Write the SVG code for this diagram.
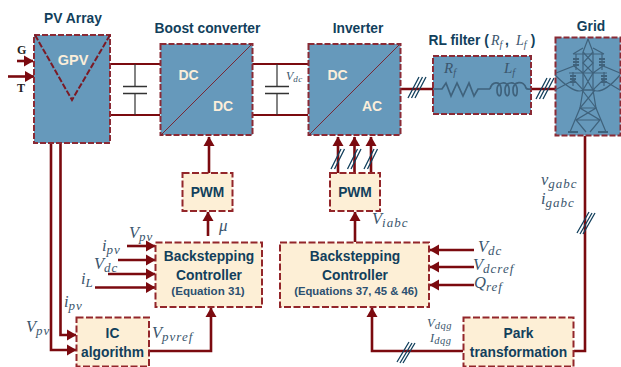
<svg xmlns="http://www.w3.org/2000/svg" width="621" height="367" viewBox="0 0 621 367">
<defs>
<marker id="ah" markerUnits="userSpaceOnUse" markerWidth="11" markerHeight="12" refX="9" refY="6" orient="auto"><path d="M0,0.5 L9.500,6 L0,11.500 Z" fill="#7b0a0f"/></marker>
</defs>
<style>
.blue{fill:#6699bb;stroke:#8a2a35;stroke-width:2;stroke-dasharray:6 2}
.cream{fill:#fdefd6;stroke:#93262a;stroke-width:2;stroke-dasharray:7 2.5}
.w{fill:none;stroke:#7b0a0f;stroke-width:2.6}
.a{fill:none;stroke:#7b0a0f;stroke-width:2.6;marker-end:url(#ah)}
.p{fill:none;stroke:#7b1a25;stroke-width:0.9}
.c{fill:none;stroke:#333;stroke-width:1.2}
.cp{fill:none;stroke:#333;stroke-width:1.6}
.sl{fill:none;stroke:#123f5c;stroke-width:1.3}
.t{font:bold 13.8px "Liberation Sans",Arial,sans-serif;fill:#123f5c;text-anchor:middle}
.s{font:bold 11.6px "Liberation Sans",Arial,sans-serif;fill:#2c5070;text-anchor:middle}
.d{font:bold 14px "Liberation Sans",Arial,sans-serif;fill:#fbeeda;text-anchor:middle}
.m{font:italic 16.5px "Liberation Serif","Times New Roman",serif;fill:#3b566d}
.m tspan{font-size:13px;letter-spacing:1px}
.g{font:bold 12px "Liberation Serif","Times New Roman",serif;fill:#222}
.i{fill:none;stroke:#3f627c;stroke-width:1.7}
.tw{fill:none;stroke:#3f627c;stroke-width:1.2}
</style>

<g id="connectors">
<path class="w" d="M110,64H160M110,115H160M252,64H308M252,115H308" style="stroke-width:1.8"/>
<path class="c" d="M135,64V86M135,94V115M277,64V86M277,94V115"/>
<path class="cp" d="M123,86.500H147M123,93.500H147M265,86.500H289M265,93.500H289"/>
<path class="a" d="M17,61H33"/><path class="a" d="M8,76.500H34"/>
<path class="a" d="M209,173V137"/>
<path class="a" d="M208,236V212"/>
<path class="a" d="M338,173V137"/><path class="a" d="M354.500,173V137"/><path class="a" d="M371,173V137"/>
<path class="sl" d="M331,169L341,149M334.500,169L344.500,149M347.500,169L357.500,149M351,169L361,149M364,169L374,149M367.500,169L377.500,149"/>
<path class="a" d="M355,242V212"/>
<path class="w" d="M400,89H433M531,89H555"/>
<path class="sl" d="M408,98L419,77M411.500,98L422.500,77M415,98L426,77M536,99L547,78M539.500,99L550.500,78M543,99L554,78"/>
<path class="a" d="M127,246H155"/><path class="a" d="M118,260H155"/><path class="a" d="M108,274H155"/><path class="a" d="M95,287.500H155"/>
<path class="a" d="M51,143V350H76"/>
<path class="a" d="M60.500,143V335H76"/>
<path class="a" d="M149,351H211V308"/>
<path class="a" d="M474,250H430"/><path class="a" d="M474,267H430"/><path class="a" d="M474,285H430"/>
<path class="a" d="M463,351H372V308"/>
<path class="w" d="M585,136V351H574"/>
<path class="sl" d="M577,233L589,212M580,234L592,213M583,234L595,213"/>
<path class="sl" d="M397,362L409,342M400,363L412,343M403,363L415,343"/>
</g>

<g id="pv-array">
<rect class="blue" x="34" y="35" width="76" height="108"/>
<path d="M35,35L72,100L110,35" style="fill:none;stroke-dasharray:6 2;stroke:#7b1a25;stroke-width:2"/>
<text class="d" x="73" y="65" style="font-size:14.500px">GPV</text>
<text class="t" x="73" y="23">PV Array</text>
<text class="g" x="17" y="54">G</text>
<text class="g" x="17" y="92">T</text>
</g>

<g id="boost-converter">
<rect class="blue" x="160.500" y="44" width="92" height="91"/>
<path class="p" d="M161,135L251,45"/>
<text class="d" x="188.500" y="80">DC</text>
<text class="d" x="223" y="111">DC</text>
<text class="t" x="207.500" y="33">Boost converter</text>
<text class="m" x="286" y="80" style="font-size:12px">V<tspan dy="2" style="font-size:9px;letter-spacing:0.500px">dc</tspan></text>
</g>

<g id="inverter">
<rect class="blue" x="308.500" y="44" width="92" height="91"/>
<path class="p" d="M309,135L399,45"/>
<text class="d" x="337.500" y="80">DC</text>
<text class="d" x="372" y="111">AC</text>
<text class="t" x="358" y="33">Inverter</text>
</g>

<g id="rl-filter">
<rect class="blue" x="433" y="56" width="98" height="58"/>
<path class="i" d="M433,89H442L446,83L451,96L457,83L463,96L469,83L474,96L478,89H490"/>
<path class="i" d="M490,89C492,81 500,81 501,88C502,98 497,98 497,90C497,81 508,81 509,88C510,98 505,98 505,90C505,81 516,81 517,88C518,98 513,98 513,90C513,81 524,80 526,88C527,90 529,89 531,89"/>
<text class="m" x="444" y="73" style="font-size:15px">R<tspan dy="3" style="font-size:10px">f</tspan></text>
<text class="m" x="504" y="73" style="font-size:15px">L<tspan dy="3" style="font-size:10px">f</tspan></text>
<text class="t" x="428.500" y="45" style="text-anchor:start">RL filter (</text>
<text class="m" x="491" y="45" style="font-size:14px">R<tspan dy="3" style="font-size:10px">f</tspan></text>
<text class="t" x="507" y="45">,</text>
<text class="m" x="516" y="45" style="font-size:14px">L<tspan dy="3" style="font-size:10px">f</tspan></text>
<text class="t" x="533" y="45">)</text>
</g>

<g id="grid">
<rect class="blue" x="555.500" y="37.500" width="65" height="98"/>
<path class="tw" d="M588,39L583,52V90L580,108L570,132M588,39L593,52V90L596,108L606,132M568,132H578M598,132H608"/>
<path class="tw" d="M573,54H604M573,54L583,48M604,54L593,48M556,73L574,66L583,73H593L603,66L620,73M569,73H607"/>
<path class="tw" d="M583,52L593,63L583,73L593,90M593,52L583,63L593,73L583,90M582,90H595M580,108H596M576,120H600M582,90L596,108L576,120L586,132M595,90L580,108L600,120L590,132"/>
<path class="tw" d="M555,90L574,80L583,90H593L603,80L620,90M555,75Q575,95 583,90M620,75Q603,95 593,90"/>
<path class="tw" d="M576,54V70M602,54V70M573,72V86M604,72V86"/>
<path class="tw" style="stroke-width:2" d="M573,59H579M573,62H579M573,65H579M599,59H605M599,62H605M599,65H605M570,76H576M570,79H576M570,82H576M601,76H607M601,79H607M601,82H607"/>
<path class="tw" style="stroke-width:2" d="M568,132H578M598,132H608"/>
<text class="t" x="591" y="31">Grid</text>
</g>

<g id="pwm-1">
<rect class="cream" x="182.500" y="173" width="50" height="38"/>
<text class="t" x="207.500" y="197">PWM</text>
</g>
<g id="pwm-2">
<rect class="cream" x="330" y="173" width="50" height="38"/>
<text class="t" x="355" y="197">PWM</text>
</g>

<g id="backstepping-1">
<rect class="cream" x="155.500" y="242.500" width="106.500" height="64.500"/>
<text class="t" x="209" y="261">Backstepping</text>
<text class="t" x="209" y="280">Controller</text>
<text class="s" x="208" y="295">(Equation 31)</text>
</g>
<g id="backstepping-2">
<rect class="cream" x="280" y="242.500" width="149" height="64.500"/>
<text class="t" x="355" y="261">Backstepping</text>
<text class="t" x="355" y="280">Controller</text>
<text class="s" x="356" y="295" style="font-size:11.300px">(Equations 37, 45 &amp; 46)</text>
</g>
<g id="ic-algorithm">
<rect class="cream" x="76.500" y="317.500" width="72.500" height="49"/>
<text class="t" x="112.500" y="338">IC</text>
<text class="t" x="112.500" y="357">algorithm</text>
</g>
<g id="park">
<rect class="cream" x="463.500" y="317.500" width="110" height="49"/>
<text class="t" x="518.500" y="338">Park</text>
<text class="t" x="518.500" y="357">transformation</text>
</g>

<g id="labels">
<text class="m" x="129" y="238">V<tspan dy="3">pv</tspan></text>
<text class="m" x="102" y="251">i<tspan dy="3">pv</tspan></text>
<text class="m" x="94" y="269">V<tspan dy="3">dc</tspan></text>
<text class="m" x="81" y="284">i<tspan dy="3">L</tspan></text>
<text class="m" x="64" y="307">i<tspan dy="3">pv</tspan></text>
<text class="m" x="26" y="332">V<tspan dy="3">pv</tspan></text>
<text class="m" x="152" y="338">V<tspan dy="3">pvref</tspan></text>
<text class="m" x="219" y="231" style="font-size:17px">μ</text>
<text class="m" x="372" y="224">V<tspan dy="3">iabc</tspan></text>
<text class="m" x="478" y="252">V<tspan dy="3">dc</tspan></text>
<text class="m" x="473" y="270">V<tspan dy="3">dcref</tspan></text>
<text class="m" x="474" y="288">Q<tspan dy="3">ref</tspan></text>
<text class="m" x="427" y="327" style="font-size:12.500px">V<tspan dy="2" style="font-size:10.500px;letter-spacing:0.500px">dqg</tspan></text>
<text class="m" x="430" y="342" style="font-size:12.500px">I<tspan dy="2" style="font-size:10.500px;letter-spacing:0.500px">dqg</tspan></text>
<text class="m" x="541" y="185">v<tspan dy="3">gabc</tspan></text>
<text class="m" x="541" y="204">i<tspan dy="3">gabc</tspan></text>
</g>
</svg>
